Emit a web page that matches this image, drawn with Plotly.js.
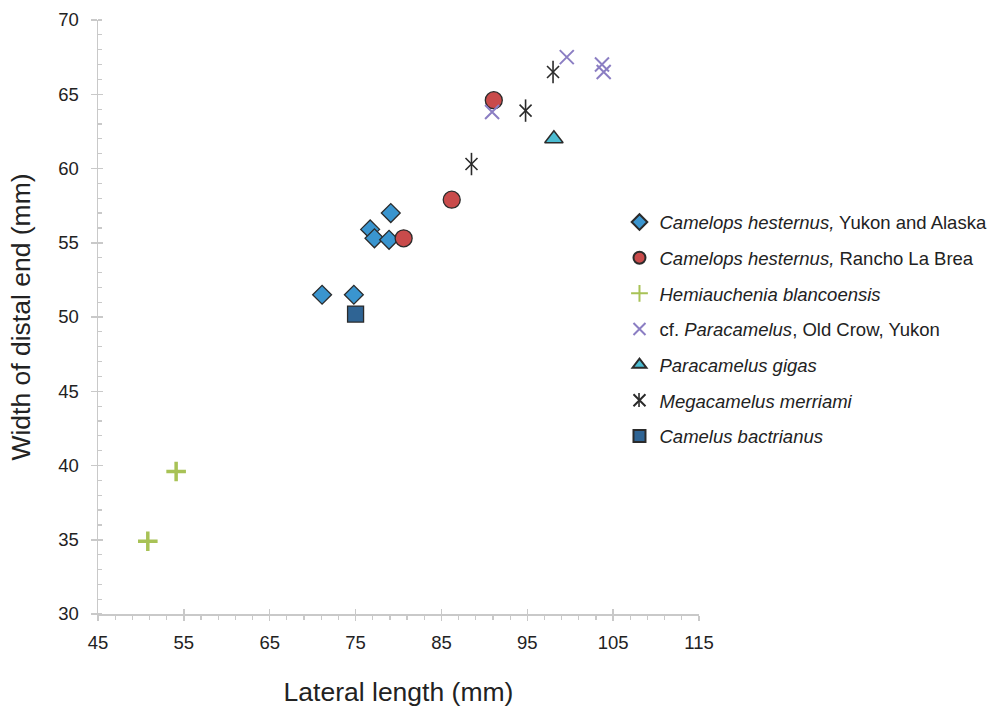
<!DOCTYPE html>
<html>
<head>
<meta charset="utf-8">
<script src="https://cdn.plot.ly/plotly-3.0.1.min.js"></script>
<style>html,body{margin:0;padding:0;background:#fff;}#chart{width:994px;height:708px;}</style>
</head>
<body>
<div id="chart"></div>
<script>
// Data
const seriesNames = [
  "<i>Camelops hesternus,</i> Yukon and Alaska",
  "<i>Camelops hesternus,</i> Rancho La Brea",
  "<i>Hemiauchenia blancoensis</i>",
  "cf. <i>Paracamelus</i>, Old Crow, Yukon",
  "<i>Paracamelus gigas</i>",
  "<i>Megacamelus merriami</i>",
  "<i>Camelus bactrianus</i>"
];
const yukonX = [71.1, 74.8, 76.7, 77.2, 78.9, 79.1];
const yukonY = [51.5, 51.5, 55.9, 55.3, 55.2, 57.0];
const rlbX = [80.6, 86.2, 91.1];
const rlbY = [55.3, 57.9, 64.6];
const hemiX = [50.8, 54.1];
const hemiY = [34.9, 39.6];
const paraX = [90.9, 99.6, 103.7, 103.9];
const paraY = [63.8, 67.5, 67.0, 66.5];
const gigasX = [98.1];
const gigasY = [62.0];
const megaX = [88.5, 94.8, 98.0];
const megaY = [60.3, 63.9, 66.5];
const bactX = [75.0];
const bactY = [50.2];
const xTickVals = [45, 55, 65, 75, 85, 95, 105, 115];
const yTickVals = [30, 35, 40, 45, 50, 55, 60, 65, 70];

const dark = "#2b2b2b";
const traces = [
  {x: yukonX, y: yukonY, name: seriesNames[0], legendgroup: "g1",
   marker: {symbol: "diamond", size: 14.5, color: "#3a95cf", line: {color: dark, width: 1.3}}},
  {x: rlbX, y: rlbY, name: seriesNames[1], legendgroup: "g2",
   marker: {symbol: "circle", size: 17, color: "#c94b4b", line: {color: dark, width: 1.3}}},
  {x: hemiX, y: hemiY, name: seriesNames[2], legendgroup: "g3",
   marker: {symbol: "cross-thin-open", size: 14, color: "#a8c256", line: {color: "#a8c256", width: 3.5}}},
  {x: paraX, y: paraY, name: seriesNames[3], legendgroup: "g4",
   marker: {symbol: "x-thin-open", size: 14, color: "#8b7ec3", line: {color: "#8b7ec3", width: 2}}},
  {x: gigasX, y: gigasY, name: seriesNames[4], legendgroup: "g5",
   marker: {symbol: "triangle-up", size: 16, color: "#4bbcd2", line: {color: dark, width: 1.5}}},
  {x: megaX, y: megaY, name: seriesNames[5], legendgroup: "g6",
   marker: {symbol: "x-thin-open", size: 12, color: dark, line: {color: dark, width: 1.6}}},
  {x: megaX, y: megaY, name: seriesNames[5], legendgroup: "g6", showlegend: false,
   marker: {symbol: "line-ns-open", size: 16, color: dark, line: {color: dark, width: 1.6}}},
  {x: bactX, y: bactY, name: seriesNames[6], legendgroup: "g7",
   marker: {symbol: "square", size: 16, color: "#2f6494", line: {color: dark, width: 1.3}}}
].map(t => Object.assign({type: "scatter", mode: "markers", hoverinfo: "x+y"}, t));

// dummy trace to carry the overlaying axes (inside half of crossing major ticks)
traces.push({type: "scatter", mode: "markers", x: [null], y: [null], xaxis: "x2", yaxis: "y2",
  showlegend: false, hoverinfo: "skip"});

const axisColor = "#c9c9c9";
const fam = "Liberation Sans, Arial, sans-serif";
const tickFont = {family: fam, size: 18.5, color: "#222"};
const titleFont = {family: fam, size: 26.5, color: "#222"};

const layout = {
  width: 994, height: 708,
  margin: {l: 98, r: 295, t: 20, b: 94, autoexpand: false},
  paper_bgcolor: "#fff", plot_bgcolor: "#fff",
  showlegend: true,
  legend: {
    x: 0.8677, y: 0.691, xanchor: "left", yanchor: "top",
    font: {family: fam, size: 18.5, color: "#222"},
    traceorder: "grouped", tracegroupgap: 8.6, itemsizing: "constant",
    bgcolor: "rgba(0,0,0,0)"
  },
  // vertical stroke completing the six-armed asterisk glyph in the legend
  shapes: [{
    type: "line", xref: "paper", yref: "paper", xsizemode: "pixel", ysizemode: "pixel",
    xanchor: 0.9002, yanchor: 0.3603, x0: 0, x1: 0, y0: -7, y1: 7,
    line: {color: dark, width: 1.6}
  }],
  xaxis: {
    range: [45, 115], tickmode: "array", tickvals: xTickVals, ticktext: xTickVals.map(String),
    showgrid: false, zeroline: false, showline: true, linecolor: axisColor, linewidth: 1.5,
    ticks: "outside", ticklen: 5, tickwidth: 1.5, tickcolor: axisColor,
    minor: {dtick: 2, tick0: 45, ticks: "outside", ticklen: 4, tickwidth: 1.2, tickcolor: axisColor, showgrid: false},
    tickfont: tickFont, ticklabelstandoff: 6,
    title: {text: "Lateral length (mm)", font: titleFont, standoff: 30}
  },
  yaxis: {
    range: [30, 70], tickmode: "array", tickvals: yTickVals, ticktext: yTickVals.map(String),
    showgrid: false, zeroline: false, showline: true, linecolor: axisColor, linewidth: 1.5,
    ticks: "outside", ticklen: 6, tickwidth: 1.5, tickcolor: axisColor,
    minor: {dtick: 1, tick0: 30, ticks: "inside", ticklen: 4, tickwidth: 1.2, tickcolor: axisColor, showgrid: false},
    tickfont: tickFont, ticklabelstandoff: 8,
    title: {text: "Width of distal end (mm)", font: titleFont, standoff: 20}
  },
  xaxis2: {
    overlaying: "x", side: "bottom", range: [45, 115], tickmode: "array", tickvals: xTickVals,
    showticklabels: false, showgrid: false, zeroline: false, showline: false,
    ticks: "inside", ticklen: 5, tickwidth: 1.5, tickcolor: axisColor
  },
  yaxis2: {
    overlaying: "y", side: "left", range: [30, 70], tickmode: "array", tickvals: yTickVals,
    showticklabels: false, showgrid: false, zeroline: false, showline: false,
    ticks: "inside", ticklen: 5, tickwidth: 1.5, tickcolor: axisColor
  }
};

Plotly.newPlot("chart", traces, layout, {displayModeBar: false, staticPlot: true});
</script>
</body>
</html>
